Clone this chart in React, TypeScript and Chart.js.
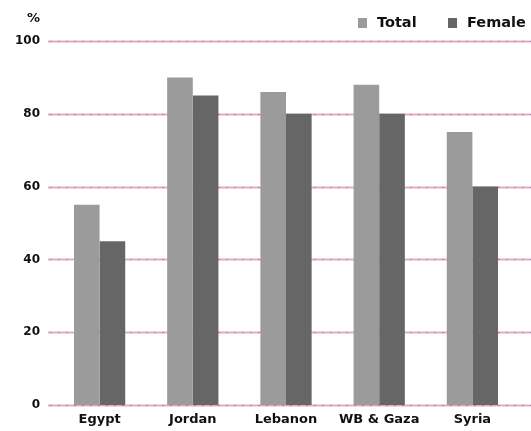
import React, { useEffect, useRef } from "react";
import { Chart, registerables } from "chart.js";

Chart.register(...registerables);

const categories = ["Egypt", "Jordan", "Lebanon", "WB & Gaza", "Syria"];
const totalValues = [55, 90, 86, 88, 75];
const femaleValues = [45, 85, 80, 80, 60];
const seriesLabels = ["Total", "Female"];
const yTicks = [0, 20, 40, 60, 80, 100];

const FONT = "'DejaVu Sans', sans-serif";

const decorPlugin = {
  id: "decor",
  beforeDatasetsDraw(chart: any) {
    const ctx = chart.ctx;
    const y = chart.scales.y;
    ctx.save();
    for (const v of yTicks) {
      const py = Math.round(y.getPixelForValue(v)) + 0.5;
      ctx.lineWidth = 2;
      ctx.setLineDash([]);
      ctx.strokeStyle = "rgba(226,160,172,0.85)";
      ctx.beginPath();
      ctx.moveTo(48, py);
      ctx.lineTo(chart.width, py);
      ctx.stroke();
      ctx.lineWidth = 1;
      ctx.setLineDash([2, 6]);
      ctx.strokeStyle = "rgba(150,100,200,0.75)";
      ctx.beginPath();
      ctx.moveTo(50, py);
      ctx.lineTo(chart.width, py);
      ctx.stroke();
    }
    ctx.restore();
  },
  afterDraw(chart: any) {
    const ctx = chart.ctx;
    ctx.save();
    ctx.font = `bold 13px ${FONT}`;
    ctx.fillStyle = "#111";
    ctx.textBaseline = "middle";
    ctx.textAlign = "right";
    ctx.fillText("%", 40, 19);
    // legend
    ctx.textAlign = "left";
    const xs = [358, 448];
    chart.data.datasets.forEach((ds: any, i: number) => {
      ctx.fillStyle = ds.backgroundColor;
      ctx.fillRect(xs[i], 18, 9, 10);
      ctx.fillStyle = "#111";
      ctx.font = `bold 14.5px ${FONT}`;
      ctx.fillText(ds.label, xs[i] + 19, 23.5);
    });
    ctx.restore();
  },
};

export default function App() {
  const ref = useRef<HTMLCanvasElement | null>(null);
  useEffect(() => {
    document.body.style.margin = "0";
    document.body.style.overflow = "hidden";
    const chart = new Chart(ref.current!, {
      type: "bar",
      data: {
        labels: categories,
        datasets: [
          {
            label: seriesLabels[0],
            data: totalValues,
            backgroundColor: "#9b9b9b",
            categoryPercentage: 0.55,
            barPercentage: 1.0,
          },
          {
            label: seriesLabels[1],
            data: femaleValues,
            backgroundColor: "#666666",
            categoryPercentage: 0.55,
            barPercentage: 1.0,
          },
        ],
      },
      options: {
        animation: false,
        responsive: false,
        maintainAspectRatio: false,
        layout: { padding: { top: 41, right: 31, left: 0, bottom: 0 } },
        plugins: { legend: { display: false }, tooltip: { enabled: false } },
        scales: {
          x: {
            grid: { display: false, drawTicks: false },
            border: { display: false },
            ticks: {
              color: "#111",
              font: { family: FONT, weight: "bold", size: 13 },
              padding: 7,
              maxRotation: 0,
              autoSkip: false,
            },
            afterFit(s: any) {
              s.height = 26;
            },
          },
          y: {
            min: 0,
            max: 100,
            grid: { display: false, drawTicks: false },
            border: { display: false },
            afterBuildTicks(s: any) {
              s.ticks = yTicks.map((v) => ({ value: v }));
            },
            ticks: {
              color: "#111",
              font: { family: FONT, weight: "bold", size: 12 },
              padding: 13,
            },
            afterFit(s: any) {
              s.width = 53;
            },
          },
        },
      },
      plugins: [decorPlugin],
    });
    return () => chart.destroy();
  }, []);
  return (
    <div style={{ width: 550, height: 431, position: "relative" }}>
      <canvas ref={ref} width={550} height={431} />
    </div>
  );
}
